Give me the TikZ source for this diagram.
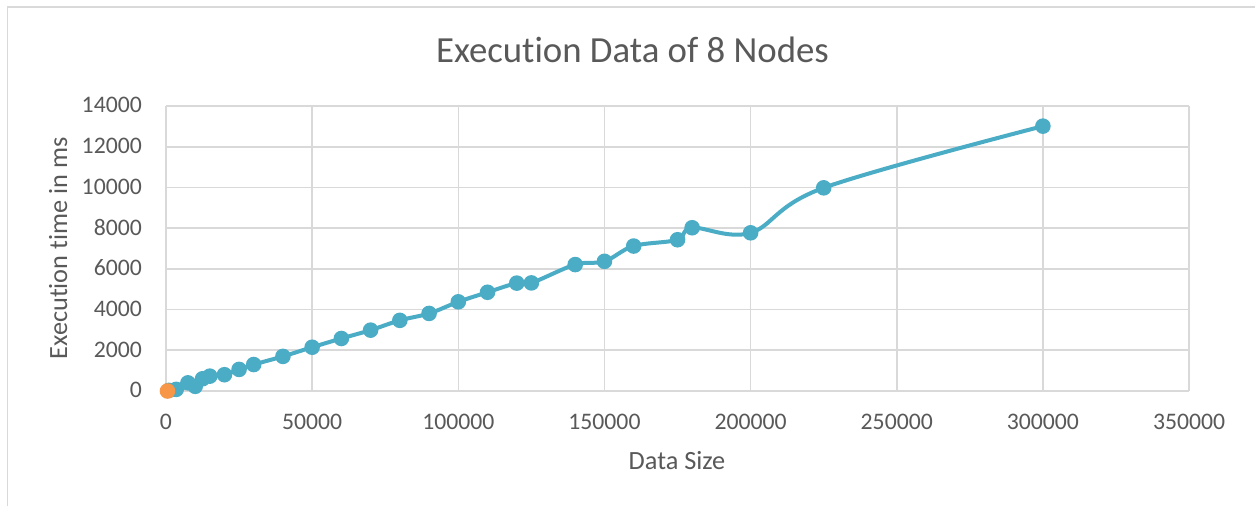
\documentclass[tikz,border=0pt]{standalone}
\usepackage{fontspec}
\setmainfont{Carlito}[Ligatures=NoCommon]
\definecolor{txt}{HTML}{595959}
\definecolor{gridc}{HTML}{D9D9D9}
\definecolor{ser}{HTML}{4BACC6}
\definecolor{org}{HTML}{F79646}
\tikzset{
  gridline/.style={draw=gridc, line width=1.6pt},
  ticklab/.style={text=txt, font=\fontsize{23.7}{26}\selectfont, inner sep=0pt},
  axtitle/.style={text=txt, font=\fontsize{26.3}{29}\selectfont, inner sep=0pt},
  serline/.style={draw=ser, line width=4pt, line join=round, line cap=round},
  dot/.style={fill=ser},
  odot/.style={fill=org}
}
\begin{document}
\begin{tikzpicture}[x=1pt,y=1pt]
\useasboundingbox (0,0) rectangle (1255,506);
\fill[white] (0,0) rectangle (1255,506);
\draw[gridc, line width=1.6pt] (7.5,0) -- (7.5,498.7) -- (1255,498.7);
\node[text=txt, font=\fontsize{36.8}{40}\selectfont, inner sep=0pt, anchor=base] (title) at (632.5,443) {Execution Data of 8 Nodes};
\node[axtitle, anchor=base] (xtitle) at (677,37) {Data Size};
\node[axtitle, anchor=base, rotate=90] (ytitle) at (67,257.5) {Execution time in ms};
\begin{scope}[shift={(166,115)}, x=2.923pt, y=20.357pt]
  \foreach \i in {0,...,7} \draw[gridline] (0,2*\i) -- (350,2*\i);
  \foreach \i in {0,...,7} \draw[gridline] (50*\i,0) -- (50*\i,14);
  \foreach \v/\l in {0/0,2/2000,4/4000,6/6000,8/8000,10/10000,12/12000,14/14000}
    \node[ticklab, anchor=base east, xshift=-24pt, yshift=-7pt] (yl\v) at (0,\v) {\l};
  \foreach \v/\l in {0/0,50/50000,100/100000,150/150000,200/200000,250/250000,300/300000,350/350000}
    \node[ticklab, anchor=base, yshift=-39pt] (xl\v) at (\v,0) {\l};
  \def\pts{(1,0.03) (3.5,0.08) (7.5,0.40) (10,0.23) (12.5,0.60) (15,0.73) (20,0.80) (25,1.06) (30,1.30) (40,1.70) (50,2.15) (60,2.58) (70,2.99) (80,3.47) (90,3.81) (100,4.38) (110,4.85) (120,5.30) (125,5.31) (140,6.21) (150,6.37) (160,7.12) (175,7.43) (180,8.02) (200,7.77) (225,9.98) (300,13.01)}
  \draw[serline] plot[smooth, tension=0.6] coordinates {\pts};
  \foreach \p in {(1,0.03),(3.5,0.08),(7.5,0.40),(10,0.23),(12.5,0.60),(15,0.73),(20,0.80),(25,1.06),(30,1.30),(40,1.70),(50,2.15),(60,2.58),(70,2.99),(80,3.47),(90,3.81),(100,4.38),(110,4.85),(120,5.30),(125,5.31),(140,6.21),(150,6.37),(160,7.12),(175,7.43),(180,8.02),(200,7.77),(225,9.98),(300,13.01)}
    \fill[dot] \p circle (7.8pt);
  \fill[odot] (0.5,0) circle (7.8pt);
\end{scope}
\end{tikzpicture}
\end{document}
